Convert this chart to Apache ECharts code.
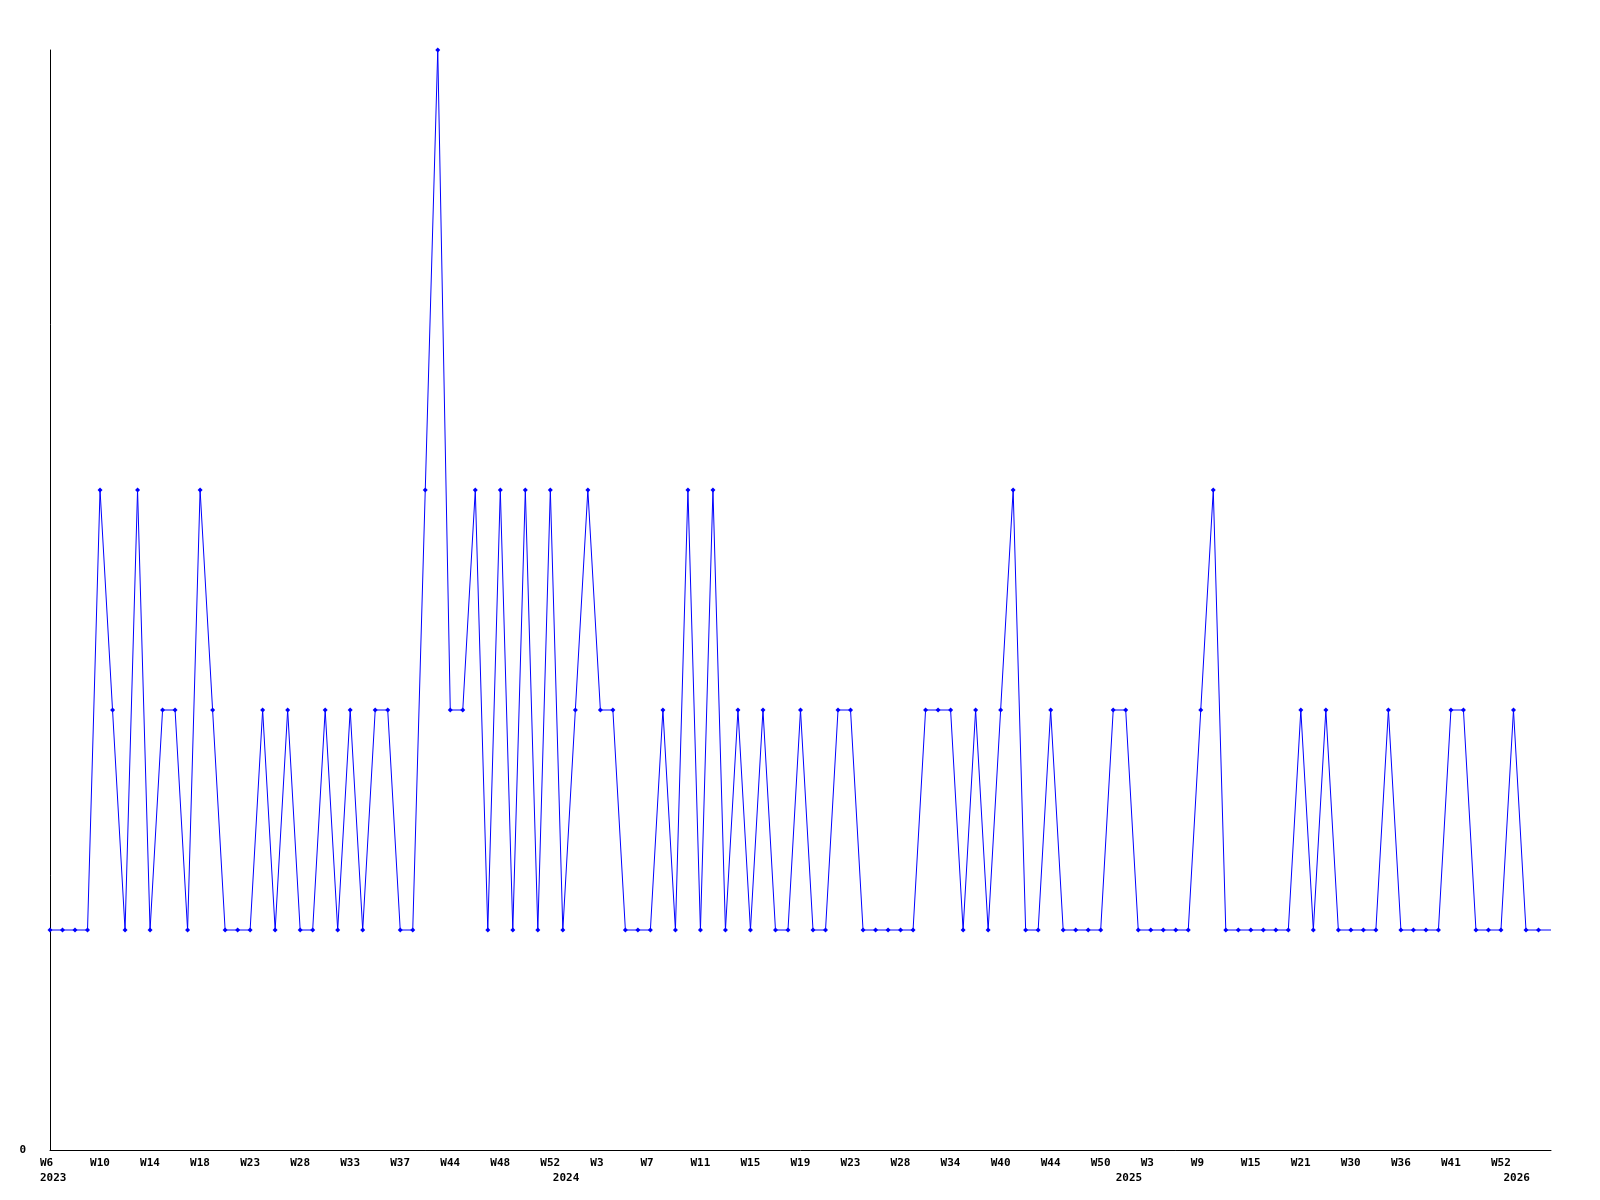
<!DOCTYPE html>
<html>
<head>
<meta charset="utf-8">
<script src="https://cdn.jsdelivr.net/npm/echarts@6/dist/echarts.min.js"></script>
<style>
  html, body { margin: 0; padding: 0; background: #fff; }
  #chart { width: 1600px; height: 1200px; }
</style>
</head>
<body>
<div id="chart"></div>
<script>
// weekly counts, one per sample point
const values = [
  1, 1, 1, 1, 3, 2, 1, 3, 1, 2,
  2, 1, 3, 2, 1, 1, 1, 2, 1, 2,
  1, 1, 2, 1, 2, 1, 2, 2, 1, 1,
  3, 5, 2, 2, 3, 1, 3, 1, 3, 1,
  3, 1, 2, 3, 2, 2, 1, 1, 1, 2,
  1, 3, 1, 3, 1, 2, 1, 2, 1, 1,
  2, 1, 1, 2, 2, 1, 1, 1, 1, 1,
  2, 2, 2, 1, 2, 1, 2, 3, 1, 1,
  2, 1, 1, 1, 1, 2, 2, 1, 1, 1,
  1, 1, 2, 3, 1, 1, 1, 1, 1, 1,
  2, 1, 2, 1, 1, 1, 1, 2, 1, 1,
  1, 1, 2, 2, 1, 1, 1, 2, 1, 1,
  1
]

// a week label every 4th point
const weekTicks = [
  'W6', 'W10', 'W14', 'W18', 'W23', 'W28', 'W33', 'W37', 'W44', 'W48',
  'W52', 'W3', 'W7', 'W11', 'W15', 'W19', 'W23', 'W28', 'W34', 'W40',
  'W44', 'W50', 'W3', 'W9', 'W15', 'W21', 'W30', 'W36', 'W41', 'W52'
]
const tickStep = 4

// year label and the point where it sits
const yearLabels = ['2023', '2024', '2025', '2026']
const yearAt = [0, 41, 86, 117]

const categories = values.map((_, i) => (i % tickStep === 0 ? weekTicks[i / tickStep] || '' : ''))
const yearCats = values.map((_, i) => {
  const k = yearAt.indexOf(i)
  return k >= 0 ? yearLabels[k] : ''
})

const labelFont = {
  color: '#000',
  fontFamily: 'DejaVu Sans Mono',
  fontWeight: 'bold',
  fontSize: 11,
  align: 'left',
  padding: [0, 0, 0, -10]
}

const chart = echarts.init(document.getElementById('chart'))

chart.setOption({
  animation: false,
  backgroundColor: '#fff',
  grid: { left: 50, right: 49, top: 50, bottom: 50 },
  xAxis: [
    {
      type: 'category',
      data: categories,
      boundaryGap: false,
      axisLine: { lineStyle: { color: '#000', width: 1 } },
      axisTick: { show: false },
      splitLine: { show: false },
      axisLabel: { ...labelFont, interval: 0, margin: 8 }
    },
    {
      type: 'category',
      data: yearCats,
      boundaryGap: false,
      position: 'bottom',
      offset: 15,
      axisLine: { show: false },
      axisTick: { show: false },
      splitLine: { show: false },
      axisLabel: { ...labelFont, interval: 0, margin: 8 }
    }
  ],
  yAxis: {
    type: 'value',
    min: 0,
    max: 5,
    interval: 5,
    axisLine: { show: true, lineStyle: { color: '#000', width: 1 } },
    axisTick: { show: false },
    splitLine: { show: false },
    axisLabel: {
      color: '#000',
      fontFamily: 'DejaVu Sans Mono',
      fontWeight: 'bold',
      fontSize: 11,
      margin: 24,
      formatter: v => (v === 0 ? '0' : '')
    }
  },
  series: [
    {
      type: 'line',
      xAxisIndex: 0,
      data: values.map((v, i) => (i === values.length - 1 ? { value: v, symbol: 'none' } : v)),
      symbol: 'diamond',
      symbolSize: 5,
      showAllSymbol: true,
      lineStyle: { color: '#0000ff', width: 1 },
      itemStyle: { color: '#0000ff' }
    }
  ]
})
</script>
</body>
</html>
